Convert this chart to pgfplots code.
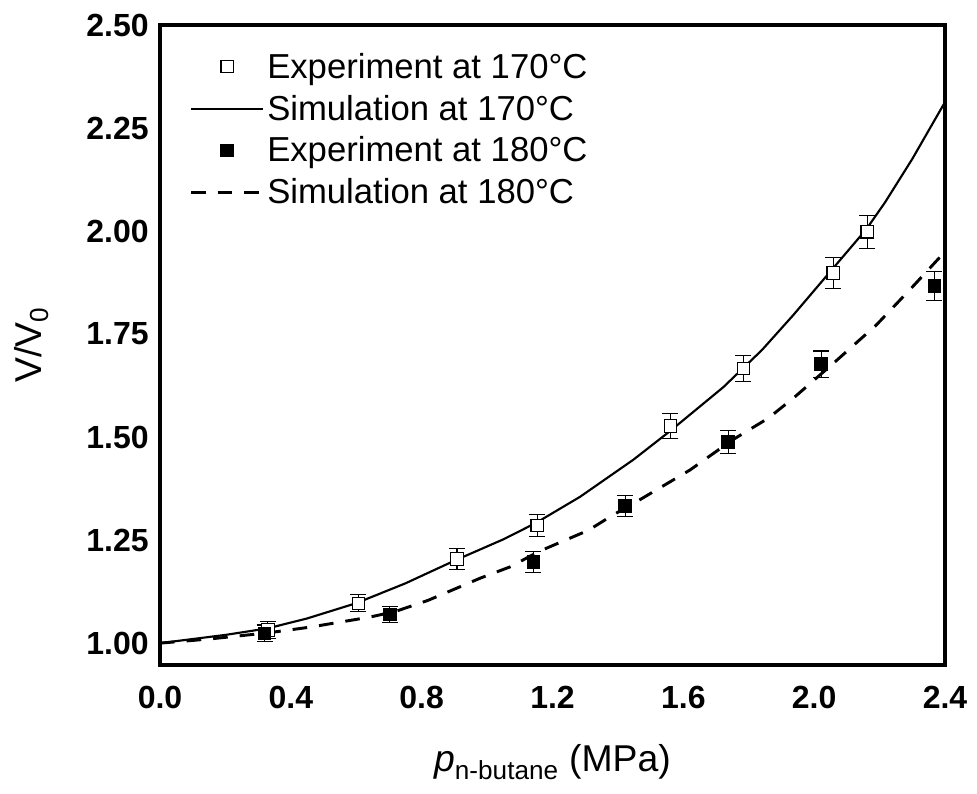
\documentclass[border=0pt]{standalone}
\usepackage{fontspec}
\setmainfont{Liberation Sans}
\usepackage{pgfplots}
\usepackage{pgfplotstable}
\pgfplotsset{compat=1.18}

\pgfplotstableread{
x y e
0.330 1.032 0.020
0.606 1.097 0.020
0.908 1.204 0.025
1.153 1.286 0.027
1.560 1.527 0.030
1.783 1.667 0.032
2.058 1.898 0.037
2.162 1.998 0.040
}\expA

\pgfplotstableread{
x y e
0.320 1.024 0.020
0.703 1.070 0.020
1.141 1.197 0.025
1.422 1.333 0.025
1.737 1.488 0.028
2.021 1.677 0.032
2.367 1.867 0.035
}\expB

\pgfplotstableread{
x y
0.000 1.000
0.100 1.010
0.200 1.020
0.330 1.036
0.450 1.060
0.600 1.097
0.750 1.145
0.900 1.200
1.050 1.252
1.150 1.292
1.284 1.355
1.447 1.445
1.560 1.515
1.722 1.621
1.840 1.711
1.936 1.796
2.040 1.893
2.160 2.005
2.217 2.070
2.300 2.175
2.400 2.313
}\simA

\pgfplotstableread{
x y
0.000 1.000
0.150 1.010
0.330 1.025
0.460 1.039
0.550 1.051
0.640 1.063
0.720 1.077
0.820 1.104
0.980 1.158
1.070 1.185
1.160 1.223
1.310 1.274
1.385 1.311
1.450 1.340
1.620 1.420
1.750 1.493
1.860 1.546
1.940 1.597
2.060 1.680
2.190 1.772
2.300 1.864
2.400 1.950
}\simB

\begin{document}
\begin{tikzpicture}
\begin{axis}[
  scale only axis,
  width=588.75pt, height=480pt,
  xmin=0, xmax=2.4, ymin=0.947, ymax=2.5,
  xtick={0,0.4,0.8,1.2,1.6,2.0,2.4},
  ytick={1,1.25,1.5,1.75,2,2.25,2.5},
  major tick length=0pt,
  axis line style={line width=2.6pt},
  xticklabel style={font=\fontsize{24}{28}\selectfont\bfseries,
    /pgf/number format/fixed, /pgf/number format/fixed zerofill,
    /pgf/number format/precision=1, /pgf/number format/assume math mode=true, yshift=-12pt},
  yticklabel style={font=\fontsize{24}{28}\selectfont\bfseries,
    /pgf/number format/fixed, /pgf/number format/fixed zerofill,
    /pgf/number format/precision=2, /pgf/number format/assume math mode=true, xshift=-5pt},
  every axis y label/.style={at={(axis description cs:0,0.5)}, rotate=90, anchor=center, yshift=96pt},
  every axis x label/.style={at={(axis description cs:0.5,0)}, anchor=center, yshift=-73pt},
  ylabel={\fontsize{28}{33}\selectfont V/V\textsubscript{0}},
  xlabel={\fontsize{28}{33}\selectfont \textit{p}\textsubscript{n-butane} (MPa)},
  legend image code/.code={\draw[#1, mark repeat=2, mark phase=2] plot coordinates {(0cm,0cm) (0.95cm,0cm) (1.9cm,0cm)};},
  legend style={at={(0,1)}, anchor=north west, xshift=22pt, yshift=-19pt,
    draw=none, fill=none, inner sep=0pt, row sep=7pt,
    font=\fontsize{26}{31}\selectfont, cells={anchor=west}},
]
\addplot[only marks, mark=square*, mark size=4.6pt,
  mark options={fill=white, draw=black, line width=0.8pt},
  error bars/.cd, y dir=both, y explicit,
  error bar style={line width=0.8pt, black},
  error mark options={rotate=90, mark size=6pt, line width=0.8pt, black}]
  table[x=x, y=y, y error=e] {\expA};
\addlegendentry{Experiment at 170°C}
\addplot[black, line width=1.6pt, mark=none] table[x=x, y=y] {\simA};
\addlegendentry{Simulation at 170°C}
\addplot[only marks, mark=square*, mark size=4.6pt,
  mark options={fill=black, draw=black, line width=0.8pt},
  error bars/.cd, y dir=both, y explicit,
  error bar style={line width=0.8pt, black},
  error mark options={rotate=90, mark size=6pt, line width=0.8pt, black}]
  table[x=x, y=y, y error=e] {\expB};
\addlegendentry{Experiment at 180°C}
\addplot[black, line width=2.2pt, mark=none, dash pattern=on 11pt off 9pt] table[x=x, y=y] {\simB};
\addlegendentry{Simulation at 180°C}
\end{axis}
\path ([xshift=-120pt,yshift=-96.75pt]current axis.south west) rectangle ([xshift=24pt,yshift=18.75pt]current axis.north east);
\end{tikzpicture}
\end{document}
